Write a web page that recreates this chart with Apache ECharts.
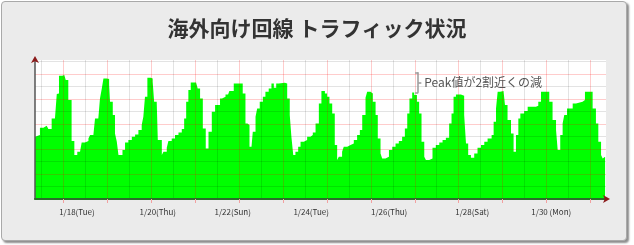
<!DOCTYPE html>
<html><head><meta charset="utf-8">
<script src="https://cdn.jsdelivr.net/npm/echarts@6/dist/echarts.min.js"></script>
<style>
html,body{margin:0;padding:0;background:#fff;}
#frame{position:absolute;left:1px;top:1px;width:624px;height:238px;border:1px solid #a9a9a9;border-radius:4px;background:#ebebeb;box-shadow:2px 2px 2px rgba(0,0,0,0.45);}
#chart{position:absolute;left:0;top:0;width:634px;height:245px;}
</style></head><body>
<div id="frame"></div><div id="chart"></div>
<script>
// hours since 1/17 00:00
const hours = [8.5,9.4,11.2,13.1,14.9,15.8,17.6,19.4,20.4,21.3,21.6,23.4,24.5,25.3,26.7,28.5,30.0,31.6,33.1,34.0,35.8,37.7,38.6,40.4,41.3,43.1,44.0,45.0,45.9,47.7,49.0,49.5,51.0,52.2,53.2,54.1,56.3,57.7,59.5,61.4,63.2,65.0,66.8,67.7,68.6,69.9,71.7,72.8,73.6,75.0,75.6,77.8,78.7,80.5,81.4,83.2,85.0,86.9,88.7,90.0,91.1,92.3,93.6,96.5,97.4,98.7,100.2,101.1,101.8,103.3,105.1,106.9,109.6,110.7,112.6,114.0,114.7,117.1,120.8,122.0,123.5,124.6,125.7,126.8,127.5,129.0,129.9,131.3,133.0,134.4,136.2,137.7,139.0,140.3,141.7,145.0,146.3,147.7,148.6,149.6,150.8,152.3,153.6,155.4,157.2,159.0,160.3,161.8,163.6,165.0,166.9,168.1,169.4,170.9,172.3,173.6,174.5,176.3,177.2,179.1,180.9,182.7,184.5,186.0,187.3,189.1,190.0,191.8,193.1,194.6,195.8,197.3,198.2,200.0,201.9,203.7,205.5,207.3,209.1,210.6,211.9,213.1,214.6,215.7,217.2,218.4,219.7,221.2,222.1,223.9,225.7,227.5,229.4,231.2,233.0,234.8,236.1,237.2,238.5,241.2,243.0,244.0,245.2,246.7,248.5,250.3,252.2,254.0,255.8,258.0,259.1,260.4,261.3,262.7,264.5,265.3,266.7,268.6,270.0,271.3,272.6,273.7,275.8,277.7,282.2,283.5,285.0,288.2,289.5,291.3,293.2,294.1,295.5,296.8,297.7,299.2,302.3,304.1,307.7,309.0,311.9,313.2,315.0,316.3,317.8,318.7,319.6,320.0];
const traffic = [49.9,51.2,57.1,58.7,59.2,56.0,64.5,65.9,84.0,84.5,98.7,99.2,98.7,95.2,79.2,46.4,35.2,37.9,39.2,45.3,46.4,48.5,51.2,52.5,64.5,65.9,80.5,88.5,96.5,96.0,91.2,77.9,67.2,52.5,45.9,35.2,39.2,45.3,47.2,49.9,51.7,55.2,59.2,65.9,81.9,97.1,96.5,93.9,77.9,76.5,47.2,35.2,37.9,41.1,46.4,48.5,51.2,53.3,56.0,64.5,77.9,87.2,93.3,93.3,88.5,80.5,56.5,56.5,40.5,53.9,69.9,75.2,80.5,81.9,83.7,82.7,86.4,92.5,92.5,84.5,60.5,59.2,41.9,41.9,53.9,65.9,72.5,77.9,81.9,85.9,88.5,92.5,89.1,92.5,93.1,92.5,80.5,67.2,49.9,35.2,37.9,41.9,45.9,47.2,49.9,51.2,53.3,60.5,76.5,86.4,84.5,81.9,76.5,68.5,43.2,31.2,33.9,37.9,41.9,43.2,44.5,47.2,51.2,55.2,67.2,81.1,85.9,84.5,77.9,67.2,48.5,36.5,32.5,33.9,39.2,41.9,44.5,46.4,49.9,56.5,68.5,80.5,85.3,83.2,77.9,68.5,45.9,33.9,31.2,32.5,41.1,43.2,45.3,47.2,49.1,60.5,68.5,81.9,83.7,82.7,67.2,44.5,35.2,33.1,36.5,41.1,43.2,45.9,48.5,51.2,61.9,72.5,85.9,86.4,85.9,75.2,63.2,52.5,37.9,51.2,64.5,68.5,70.4,73.9,74.7,77.9,85.9,85.9,77.9,63.2,55.2,39.2,51.2,60.5,67.2,72.5,76.5,77.9,79.2,85.9,85.9,72.5,60.5,45.9,35.2,32.5,33.9,33.9];
const dayLines = [24,48,72,96,120,144,168,192,216,240,264,288,312];
const noonLines = [12,36,60,84,108,132,156,180,204,228,252,276,300];
const xLabels = ['1/18(Tue)','1/20(Thu)','1/22(Sun)','1/24(Tue)','1/26(Thu)','1/28(Sat)','1/30 (Mon)'];
const xLabelHours = [31.4,75.6,116.5,159.4,202.0,247.4,290.6];
const yMajor = [20,40,60,80,100];
const yMinor = [10,30,50,70,90,110];
const titleText = '海外向け回線 トラフィック状況';
const noteText = 'Peak値が2割近くの減';
// bracket: [x-left, x-bracket, x-tick-end] hours, [top, bottom, mid] values
const noteX = [216.2,217.9,219.6];
const noteY = [101.4,85.0,93.2];

const X_MIN = 8.5, X_MAX = 320.5, Y_MAX = 111.2;
const chart = echarts.init(document.getElementById('chart'), null, {renderer:'canvas'});
const hide = {show:false};
const baseX = {type:'value', min:X_MIN, max:X_MAX, position:'bottom', z:5,
  axisLine:{show:false, onZero:false}, axisTick:{show:false}, axisLabel:{show:false}, splitLine:{show:false}};
const baseY = {type:'value', min:0, max:Y_MAX, position:'left', z:5,
  axisLine:{show:false, onZero:false}, axisTick:{show:false}, axisLabel:{show:false}, splitLine:{show:false}};
const seriesData = hours.map((h,i)=>[h, traffic[i]]);
const lineItem = (a,b,extra)=>[Object.assign({coord:a}, extra||{}), {coord:b}];

chart.setOption({
  animation:false,
  title:{text:titleText, left:'center', top:13,
    textStyle:{fontSize:21, fontWeight:'bold', color:'#333', fontFamily:'Noto Sans CJK JP'}},
  grid:{left:35, right:28, top:60, bottom:46, show:true, backgroundColor:'#fff', borderWidth:0},
  xAxis:[
    Object.assign({}, baseX, {
      axisLine:{show:true, onZero:false, lineStyle:{color:'#2a6e2a', width:2}},
      axisTick:{show:true, customValues:dayLines, length:4, lineStyle:{color:'#f2a0a0'}},
      splitLine:{show:true, lineStyle:{color:'rgba(255,0,0,0.2)', width:1}}
    }),
    Object.assign({}, baseX, {
      axisTick:{show:false, customValues:noonLines},
      axisLabel:{show:true, customValues:xLabelHours, margin:9, fontSize:8, color:'#333',
        fontFamily:'Noto Sans CJK JP',
        formatter:(v)=>{const i=xLabelHours.indexOf(v); return i>=0?xLabels[i]:'';}},
      splitLine:{show:true, lineStyle:{color:'rgba(0,0,0,0.11)', width:1}}
    }),
    Object.assign({}, baseX, {z:6,
      axisLine:{show:true, onZero:false, symbol:['none','arrow'], symbolSize:[6,7], symbolOffset:[0,4],
        lineStyle:{color:'#8b1a1a', width:0}}
    })
  ],
  yAxis:[
    Object.assign({}, baseY, {
      axisLine:{show:true, onZero:false, lineStyle:{color:'#555', width:1.5}},
      axisTick:{show:false, customValues:yMajor},
      splitLine:{show:true, lineStyle:{color:'rgba(255,0,0,0.2)', width:1}}
    }),
    Object.assign({}, baseY, {
      axisTick:{show:false, customValues:yMinor},
      splitLine:{show:true, lineStyle:{color:'rgba(0,0,0,0.11)', width:1}}
    }),
    Object.assign({}, baseY, {z:6,
      axisLine:{show:true, onZero:false, symbol:['none','arrow'], symbolSize:[6,7], symbolOffset:[0,4],
        lineStyle:{color:'#8b1a1a', width:0}}
    })
  ],
  series:[{
    type:'line', xAxisIndex:0, yAxisIndex:0, step:'end', symbol:'none', z:2,
    data:seriesData,
    lineStyle:{width:0, color:'#00ff00'},
    itemStyle:{color:'#00ff00'},
    areaStyle:{color:'#00ff00', opacity:1},
    markLine:{
      silent:true, symbol:['none','none'], animation:false,
      lineStyle:{color:'#9a9a9a', width:1.5, type:'solid'},
      label:{show:false},
      data:[
        lineItem([noteX[0],noteY[0]],[noteX[1],noteY[0]]),
        lineItem([noteX[1],noteY[0]],[noteX[1],noteY[1]]),
        lineItem([noteX[0],noteY[1]],[noteX[1],noteY[1]]),
        lineItem([noteX[1],noteY[2]],[noteX[2],noteY[2]], {label:{show:true, position:'end', formatter:noteText,
          distance:3, color:'#555', fontSize:12, fontFamily:'Noto Sans CJK JP'}})
      ]
    }
  }]
});
</script>
</body></html>
